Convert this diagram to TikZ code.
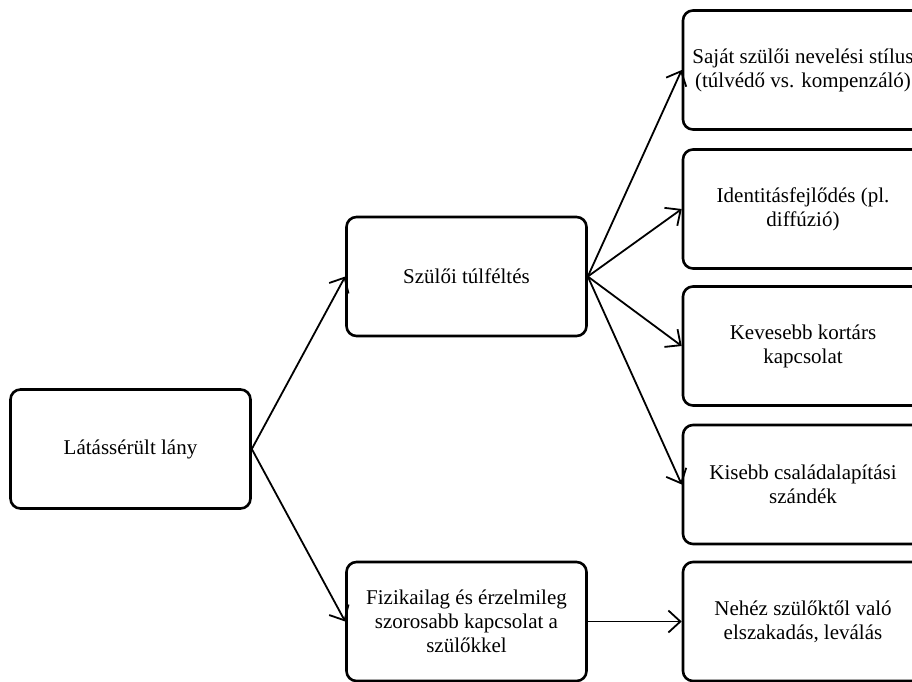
\documentclass[tikz,border=0pt]{standalone}
\usepackage{fontspec}
\setmainfont{Liberation Serif}
\usetikzlibrary{arrows.meta}

\begin{document}
\begin{tikzpicture}[x=1pt,y=1pt,->,>={Straight Barb[length=12pt,width=22pt]},line width=1.8pt]
\tikzstyle{box}=[draw=black,line width=2.6pt,rounded corners=10pt,minimum width=240pt,minimum height=119pt,inner sep=2pt,align=center,font=\fontsize{21}{24}\selectfont]
\useasboundingbox (0,0) rectangle (912,-681);
\node[box] (girl) at (130.5,-449) {Látássérült lány};
\node[box] (overprot) at (466.5,-276.5) {Szülői túlféltés};
\node[box] (closer) at (466.5,-621.5) {Fizikailag és érzelmileg\\szorosabb kapcsolat a\\szülőkkel};
\node[box] (style) at (803,-70) {Saját szülői nevelési stílus\\(túlvédő vs. kompenzáló)};
\node[box] (identity) at (803,-209) {Identitásfejlődés (pl.\\diffúzió)};
\node[box] (peers) at (803,-346) {Kevesebb kortárs\\kapcsolat};
\node[box] (family) at (803,-484.5) {Kisebb családalapítási\\szándék};
\node[box] (detach) at (803,-621.5) {Nehéz szülőktől való\\elszakadás, leválás};
\path (girl.east) edge (overprot.west)
                  edge (closer.west)
      (overprot.east) edge (style.west)
                      edge (identity.west)
                      edge (peers.west)
                      edge (family.west)
      (closer) edge (detach);
\end{tikzpicture}
\end{document}
